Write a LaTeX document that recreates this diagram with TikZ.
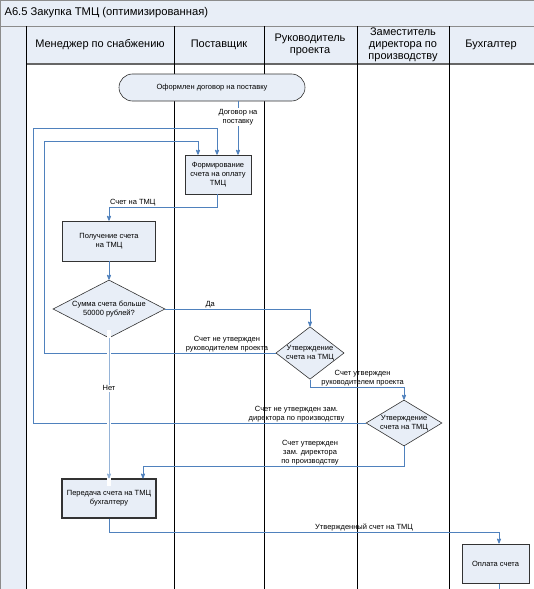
\documentclass[tikz,border=0pt]{standalone}
\usepackage{fontspec}
\setmainfont{Liberation Sans}
\usetikzlibrary{arrows,shapes.geometric}

\definecolor{lanefill}{RGB}{232,238,247}
\definecolor{flowblue}{RGB}{79,129,189}

\begin{document}
\begin{tikzpicture}[x=1pt,y=-1pt,>=stealth',
  every node/.style={font=\fontsize{7.5}{9}\selectfont,align=center}]
  \tikzstyle{proc}=[draw=black!80,fill=lanefill,line width=0.6pt,inner sep=2pt]
  \tikzstyle{decide}=[diamond,draw=black!80,fill=lanefill,line width=0.6pt,inner sep=0pt]
  \tikzstyle{flow}=[->,draw=flowblue,line width=0.8pt]
  \tikzstyle{lbl}=[inner sep=1pt]
  \tikzstyle{head}=[font=\fontsize{11}{12}\selectfont]

  \useasboundingbox (0,0) rectangle (534,589);

  % swimlane frame
  \fill[lanefill] (0,0) rectangle (534,26);
  \fill[lanefill] (0,26) rectangle (26,589);
  \fill[lanefill] (26,26) rectangle (534,64);
  \draw[black!45] (0,0.5) -- (534,0.5) (0.5,0) -- (0.5,589) (0,26) -- (534,26);
  \draw[black!60,line width=1.2pt] (26,64) -- (534,64);
  \foreach \x in {26,174,264,357,449}
    \draw[black,line width=1pt] (\x,26) -- (\x,589);

  \node[anchor=west,font=\fontsize{11.2}{12}\selectfont] (title) at (1,13)
    {А6.5 Закупка ТМЦ (оптимизированная)};
  \node[head] (hman) at (100,45) {Менеджер по снабжению};
  \node[head] (hsup) at (219,45) {Поставщик};
  \node[head] (hlead) at (310,45) {Руководитель\\проекта};
  \node[head] (hdep) at (403,45) {Заместитель\\директора по\\производству};
  \node[head] (hacc) at (491,45) {Бухгалтер};

  % steps
  \node[proc,rounded corners=13.5pt,minimum width=186,minimum height=27]
    (start) at (212,87.5) {Оформлен договор на поставку};
  \node[proc,minimum width=66,minimum height=39] (form) at (218,174.5)
    {Формирование\\счета на оплату\\ТМЦ};
  \node[proc,minimum width=93,minimum height=40] (recv) at (109,241)
    {Получение счета\\на ТМЦ};
  \node[decide,aspect=1.93,minimum width=112,minimum height=58] (sum) at (109,309)
    {Сумма счета больше\\50000 рублей?};
  \node[decide,aspect=1.3,minimum width=66,minimum height=51] (appr1) at (310,353)
    {Утверждение\\счета на ТМЦ};
  \node[decide,aspect=1.65,minimum width=76,minimum height=46] (appr2) at (404,423)
    {Утверждение\\счета на ТМЦ};
  \node[proc,line width=1.1pt,minimum width=94,minimum height=39] (pass) at (109,498.5)
    {Передача счета на ТМЦ\\бухгалтеру};
  \node[proc,line width=1pt,minimum width=67,minimum height=39] (pay) at (495.5,563.5)
    {Оплата счета};
  \coordinate (payout) at (499,589);

  % connectors
  \draw[flow] ([xshift=26pt]start.south) -- node[lbl,fill=white,pos=0.3]
    {Договор на\\поставку} ([xshift=20pt]form.north);
  \draw[flow] ([xshift=-1pt]form.south) -- ++(0,13) -| node[lbl,above,pos=0.39]
    {Счет на ТМЦ} (recv.north);
  \draw[flow] (recv.south) -- (sum.north);
  \draw[flow] (sum.east) -| node[lbl,above,pos=0.155] {Да} (appr1.north);
  \draw[flow] (appr1.west) -| node[lbl,above,pos=0.105]
    {Счет не утвержден\\руководителем проекта} (44,141)
    -| ([xshift=-20pt]form.north);
  \draw[flow] (appr1.south) -- ++(0,8) -| node[lbl,above,pos=0.28]
    {Счет утвержден\\руководителем проекта} (appr2.north);
  \draw[flow] (appr2.west) -| node[lbl,above,pos=0.104]
    {Счет не утвержден зам.\\директора по производству} (33,128)
    -| ([xshift=-1pt]form.north);
  \draw[flow] (appr2.south) -- ++(0,20) -| node[lbl,above,pos=0.18]
    {Счет утвержден\\зам. директора\\по производству} ([xshift=34pt]pass.north);
  % line jumps where "Нет" crosses the loops
  \draw[white,line width=4pt] ([yshift=8pt]sum.south) -- ([yshift=-8pt]pass.north);
  \draw[flow,draw=flowblue!60] (sum.south) -- node[lbl,fill=white,pos=0.357] {Нет} (pass.north);
  \draw[flow] (pass.south) -- ++(0,14) -| node[lbl,above,pos=0.327]
    {Утвержденный счет на ТМЦ} ([xshift=3.5pt]pay.north);
  \draw[draw=flowblue,line width=0.8pt] ([xshift=3.5pt]pay.south) -- (payout);
\end{tikzpicture}
\end{document}
